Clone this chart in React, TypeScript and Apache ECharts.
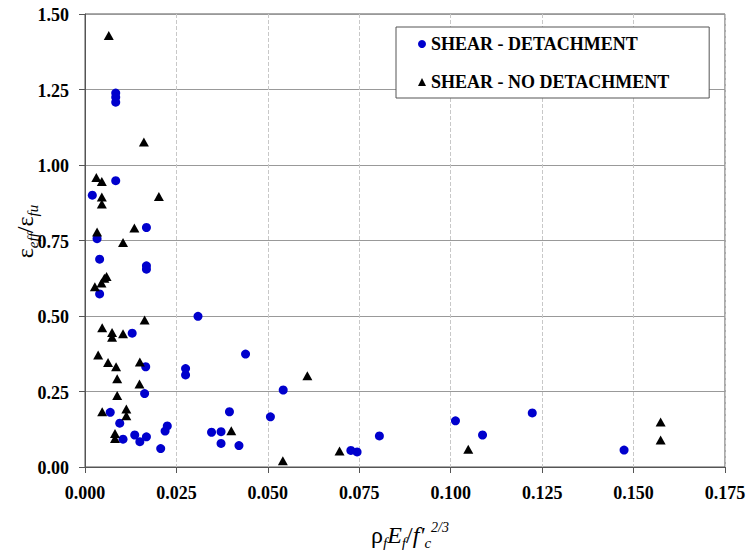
import React, { useEffect, useRef } from "react";
import * as echarts from "echarts";

const detachX = [0.0084, 0.0084, 0.0084, 0.0084, 0.0020, 0.0168, 0.0033, 0.0040, 0.0168, 0.0168, 0.0040, 0.0309, 0.0129, 0.0439, 0.0166, 0.0275, 0.0275, 0.0163, 0.0069, 0.0395, 0.0095, 0.0225, 0.0219, 0.0136, 0.0168, 0.0104, 0.0150, 0.0207, 0.0346, 0.0372, 0.0372, 0.0421, 0.0542, 0.0507, 0.0727, 0.0744, 0.0805, 0.1013, 0.1087, 0.1223, 0.1474];
const detachY = [1.238, 1.224, 1.208, 0.948, 0.900, 0.793, 0.756, 0.688, 0.666, 0.655, 0.573, 0.499, 0.443, 0.374, 0.332, 0.326, 0.305, 0.243, 0.181, 0.183, 0.145, 0.136, 0.119, 0.106, 0.100, 0.092, 0.084, 0.061, 0.115, 0.117, 0.078, 0.071, 0.255, 0.166, 0.055, 0.050, 0.103, 0.153, 0.106, 0.179, 0.056];

const noDetachX = [0.0065, 0.0161, 0.0031, 0.0046, 0.0046, 0.0046, 0.0202, 0.0033, 0.0135, 0.0104, 0.0027, 0.0045, 0.0053, 0.0059, 0.0163, 0.0047, 0.0074, 0.0074, 0.0104, 0.0036, 0.0063, 0.0085, 0.0150, 0.0088, 0.0149, 0.0088, 0.0047, 0.0113, 0.0113, 0.0082, 0.0082, 0.0400, 0.0608, 0.0541, 0.0696, 0.1048, 0.1574, 0.1574];
const noDetachY = [1.429, 1.076, 0.959, 0.945, 0.894, 0.871, 0.896, 0.778, 0.791, 0.743, 0.597, 0.609, 0.625, 0.631, 0.487, 0.461, 0.445, 0.430, 0.441, 0.371, 0.346, 0.332, 0.348, 0.292, 0.275, 0.237, 0.183, 0.192, 0.170, 0.111, 0.094, 0.120, 0.302, 0.021, 0.053, 0.059, 0.149, 0.089];

const seriesNames = ["SHEAR - DETACHMENT", "SHEAR - NO DETACHMENT"];

const xTickValues = [0, 0.025, 0.05, 0.075, 0.1, 0.125, 0.15, 0.175];
const xTickLabels = ["0.000", "0.025", "0.050", "0.075", "0.100", "0.125", "0.150", "0.175"];
const yTickValues = [0, 0.25, 0.5, 0.75, 1, 1.25, 1.5];
const yTickLabels = ["0.00", "0.25", "0.50", "0.75", "1.00", "1.25", "1.50"];

const xName = "{m|ρ}{s|f}{mi|E}{s|f}{m|/}{mi|f'}{s|c}{p|2/3}";
const yName = "{m|ε}{s|eff}{m|/ε}{s|fu}";

const FONT = "Liberation Serif";

export default function App() {
  const ref = useRef<HTMLDivElement>(null);
  useEffect(() => {
    if (!ref.current) return;
    const chart = echarts.init(ref.current, null, { renderer: "svg" });
    const nameRich = {
      m: { fontSize: 24, fontFamily: FONT, fill: "#000", color: "#000", lineHeight: 30, verticalAlign: "middle" },
      mi: { fontSize: 24, fontFamily: FONT, fontStyle: "italic", fill: "#000", color: "#000", lineHeight: 30, verticalAlign: "middle" },
      s: { fontSize: 15, fontFamily: FONT, fontStyle: "italic", fill: "#000", color: "#000", lineHeight: 15, verticalAlign: "bottom" },
      p: { fontSize: 14, fontFamily: FONT, fontStyle: "italic", fill: "#000", color: "#000", lineHeight: 14, verticalAlign: "top" },
    };
    chart.setOption({
      animation: false,
      backgroundColor: "#fff",
      textStyle: { fontFamily: FONT },
      grid: {
        left: 85,
        right: 28,
        top: 14,
        bottom: 83,
        outerBoundsMode: "none",
        containLabel: false,
        show: true,
        borderColor: "#555",
        borderWidth: 1,
      },
      legend: {
        left: 396,
        top: 27,
        orient: "vertical",
        padding: [8, 40, 7, 22],
        borderColor: "#555",
        borderWidth: 1,
        backgroundColor: "#fff",
        itemWidth: 8,
        itemHeight: 8,
        itemGap: 20,
        textStyle: { fontFamily: FONT, fontSize: 18, fontWeight: "bold", color: "#000" },
        data: [
          { name: seriesNames[0], icon: "circle" },
          { name: seriesNames[1], icon: "triangle" },
        ],
      },
      xAxis: {
        type: "value",
        min: 0,
        max: 0.175,
        interval: 0.025,
        axisLine: { show: true, onZero: false, lineStyle: { color: "#555", width: 1 } },
        axisTick: { show: true, length: 6, lineStyle: { color: "#555" } },
        axisLabel: { show: false },
        splitLine: { show: true, lineStyle: { color: "#c8c8c8", type: "dashed", width: 1 } },
      },
      yAxis: {
        type: "value",
        min: 0,
        max: 1.5,
        interval: 0.25,
        axisLine: { show: true, onZero: false, lineStyle: { color: "#555", width: 1 } },
        axisTick: { show: true, length: 6, lineStyle: { color: "#555" } },
        axisLabel: { show: false },
        splitLine: { show: true, lineStyle: { color: "#999", type: "solid", width: 1 } },
      },
      series: [
        {
          name: seriesNames[0],
          type: "scatter",
          symbol: "circle",
          symbolSize: 9,
          itemStyle: { color: "#0000CD", opacity: 1 },
          data: detachX.map((x, i) => [x, detachY[i]]),
        },
        {
          name: seriesNames[1],
          type: "scatter",
          symbol: "triangle",
          symbolSize: [10, 9],
          itemStyle: { color: "#000", opacity: 1 },
          data: noDetachX.map((x, i) => [x, noDetachY[i]]),
        },
      ],
    });

    const toPx = (x: number, y: number) => chart.convertToPixel({ gridIndex: 0 }, [x, y]) as number[];
    const tickFont = { fontFamily: FONT, fontSize: 18, fontWeight: "bold", fill: "#000" };
    const elements: any[] = [];
    xTickValues.forEach((v, i) => {
      const p = toPx(v, 0);
      elements.push({
        type: "text",
        x: p[0],
        y: p[1] + 26,
        silent: true,
        style: { ...tickFont, text: xTickLabels[i], align: "center", verticalAlign: "middle", textAlign: "center", textVerticalAlign: "middle" },
      });
    });
    yTickValues.forEach((v, i) => {
      const p = toPx(0, v);
      elements.push({
        type: "text",
        x: p[0] - 16,
        y: p[1] + 1,
        silent: true,
        style: { ...tickFont, text: yTickLabels[i], align: "right", verticalAlign: "middle", textAlign: "right", textVerticalAlign: "middle" },
      });
    });
    const c0 = toPx(0, 0);
    const c1 = toPx(0.175, 1.5);
    elements.push({
      type: "text",
      x: (c0[0] + c1[0]) / 2 + 5,
      y: c0[1] + 68,
      silent: true,
      style: { text: xName, rich: nameRich, fontFamily: FONT, fontSize: 24, fill: "#000", align: "center", verticalAlign: "middle", textAlign: "center", textVerticalAlign: "middle" },
    });
    elements.push({
      type: "text",
      x: c0[0] - 60,
      y: (c0[1] + c1[1]) / 2 - 9,
      rotation: Math.PI / 2,
      silent: true,
      style: { text: yName, rich: nameRich, fontFamily: FONT, fontSize: 24, fill: "#000", align: "center", verticalAlign: "middle", textAlign: "center", textVerticalAlign: "middle" },
    });
    chart.setOption({ graphic: { elements } });

    return () => chart.dispose();
  }, []);
  return <div ref={ref} style={{ position: "fixed", left: 0, top: 0, width: 753, height: 550 }} />;
}
